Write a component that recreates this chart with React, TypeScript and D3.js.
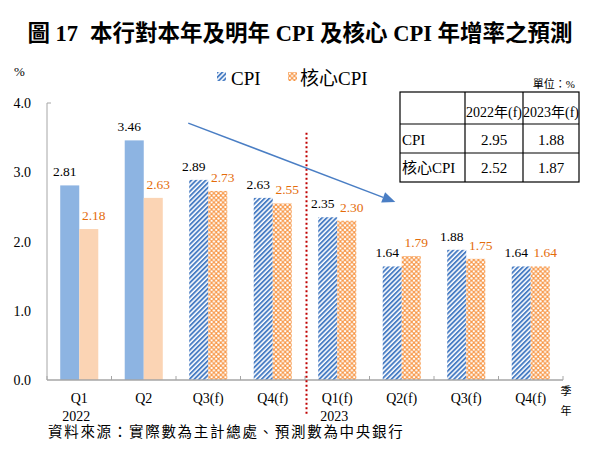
import React from "react";
import * as d3 from "d3";

const categories = ["Q1", "Q2", "Q3(f)", "Q4(f)", "Q1(f)", "Q2(f)", "Q3(f)", "Q4(f)"];
const yearLabels = ["2022", "", "", "", "2023", "", "", ""];
const isForecast = [false, false, true, true, true, true, true, true];
const cpiValues = [2.81, 3.46, 2.89, 2.63, 2.35, 1.64, 1.88, 1.64];
const coreValues = [2.18, 2.63, 2.73, 2.55, 2.3, 1.79, 1.75, 1.64];
const yTicks = [0, 1, 2, 3, 4];
const seriesNames = ["CPI", "核心CPI"];

const tableHeader = ["", "2022年(f)", "2023年(f)"];
const tableRowLabels = ["CPI", "核心CPI"];
const table2022 = [2.95, 2.52];
const table2023 = [1.88, 1.87];

// annotations in data coordinates (category units, value)
const arrowFrom = [2.19, 3.71];
const arrowTo = [5.4, 2.57];
const dividerAt = 4; // boundary between 2022 and 2023
const dividerRange = [3.57, -0.5];

const LATIN = "Liberation Serif";
const SERIF = "Liberation Serif, Noto Sans CJK TC";
const CPI_SOLID = "#8DB4E2";
const CORE_SOLID = "#FBD4B4";
const CPI_DARK = "#4A7EC4";
const CORE_DARK = "#F79646";
const CORE_TEXT = "#E46C0A";
const AXIS = "#A6A6A6";

export default function App() {
  const width = 600;
  const height = 453;
  const left = 47;
  const right = 563;
  const top = 103;
  const bottom = 380;

  const y = d3.scaleLinear().domain([0, 4]).range([bottom, top]);
  const x = d3
    .scaleBand<number>()
    .domain(categories.map((_, i) => i))
    .range([left, right])
    .paddingInner(0)
    .paddingOuter(0);
  const step = x.step();
  const xc = d3.scaleLinear().domain([0, categories.length]).range([left, right]);
  const barW = step * 0.295;

  const fillFor = (s: number, i: number) =>
    s === 0
      ? isForecast[i]
        ? "url(#stripe)"
        : CPI_SOLID
      : isForecast[i]
      ? "url(#lattice)"
      : CORE_SOLID;

  const ax1 = xc(arrowFrom[0]);
  const ay1 = y(arrowFrom[1]);
  const ax2 = xc(arrowTo[0]);
  const ay2 = y(arrowTo[1]);
  const ang = Math.atan2(ay2 - ay1, ax2 - ax1);
  const headL = 13;
  const headW = 5.5;
  const bx = ax2 - headL * Math.cos(ang);
  const by = ay2 - headL * Math.sin(ang);
  const head = [
    [ax2, ay2],
    [bx + headW * Math.sin(ang), by - headW * Math.cos(ang)],
    [bx - headW * Math.sin(ang), by + headW * Math.cos(ang)],
  ]
    .map((p) => p.join(","))
    .join(" ");

  // table geometry
  const tLeft = 400;
  const tCols = [400, 465, 523, 579];
  const tRows = [92, 124, 153, 182];

  return (
    <svg width={width} height={height} style={{ display: "block", position: "absolute", left: 0, top: 0, background: "#fff" }}>
      <defs>
        <pattern id="stripe" patternUnits="userSpaceOnUse" width={3.4} height={3.4} patternTransform="rotate(45)">
          <rect width={3.4} height={3.4} fill="#fff" />
          <rect width={1.9} height={3.4} fill={CPI_DARK} />
        </pattern>
        <pattern id="lattice" patternUnits="userSpaceOnUse" width={4.6} height={4.6}>
          <rect width={4.6} height={4.6} fill={CORE_DARK} />
          <circle cx={2.3} cy={2.3} r={1.25} fill="#fff" />
          <circle cx={0} cy={0} r={1.25} fill="#fff" />
          <circle cx={4.6} cy={0} r={1.25} fill="#fff" />
          <circle cx={0} cy={4.6} r={1.25} fill="#fff" />
          <circle cx={4.6} cy={4.6} r={1.25} fill="#fff" />
        </pattern>
      </defs>

      {/* title */}
      <text x={300} y={41} textAnchor="middle" fontFamily={SERIF} fontWeight="bold" fontSize={22.5} fill="#000">
        <tspan>圖 17</tspan>
        <tspan dx={12}>本行對本年及明年 CPI 及核心 CPI 年增率之預測</tspan>
      </text>

      {/* % unit */}
      <text x={14} y={76} fontFamily={LATIN} fontSize={13} fill="#000">%</text>

      {/* legend */}
      <rect x={217} y={72} width={9} height={9} fill="url(#stripe)" />
      <text x={231} y={85} fontFamily={LATIN} fontSize={19} fill="#000">{seriesNames[0]}</text>
      <rect x={288} y={72} width={9} height={9} fill="url(#lattice)" />
      <text x={300} y={85} fontFamily={SERIF} fontSize={19} fill="#000">{seriesNames[1]}</text>

      {/* y axis */}
      <line x1={left} x2={left} y1={top} y2={bottom} stroke={AXIS} strokeWidth={1} />
      <line x1={left} x2={left + 4} y1={y(4)} y2={y(4)} stroke={AXIS} strokeWidth={1} />
      {yTicks.map((t) => (
        <text key={t} x={31} y={y(t) + 5} textAnchor="end" fontFamily={LATIN} fontSize={14} fill="#000">
          {t.toFixed(1)}
        </text>
      ))}

      {/* bars */}
      {categories.map((_, i) => {
        const x0 = (x(i) as number) + step / 2 - barW;
        return (
          <g key={i}>
            <rect x={x0} y={y(cpiValues[i])} width={barW} height={bottom - y(cpiValues[i])} fill={fillFor(0, i)} />
            <rect x={x0 + barW} y={y(coreValues[i])} width={barW} height={bottom - y(coreValues[i])} fill={fillFor(1, i)} />
            <text x={x0 + barW / 2 - 5} y={y(cpiValues[i]) - 9} textAnchor="middle" fontFamily={LATIN} fontSize={13.5} fill="#000">
              {cpiValues[i].toFixed(2)}
            </text>
            <text x={x0 + barW * 1.5 + 5} y={y(coreValues[i]) - 9} textAnchor="middle" fontFamily={LATIN} fontSize={13.5} fill={CORE_TEXT}>
              {coreValues[i].toFixed(2)}
            </text>
          </g>
        );
      })}

      {/* x axis */}
      <line x1={left} x2={right} y1={bottom} y2={bottom} stroke={AXIS} strokeWidth={1.5} />
      {d3.range(categories.length + 1).map((k) => (
        <line key={k} x1={xc(k)} x2={xc(k)} y1={bottom} y2={bottom - 4} stroke={AXIS} strokeWidth={1} />
      ))}
      {categories.map((c, i) => (
        <g key={i}>
          <text x={(x(i) as number) + step / 2} y={403} textAnchor="middle" fontFamily={LATIN} fontSize={14} fill="#000">
            {c}
          </text>
          {yearLabels[i] && (
            <text x={(x(i) as number) + step / 2 - 3} y={421} textAnchor="middle" fontFamily={LATIN} fontSize={14} fill="#000">
              {yearLabels[i]}
            </text>
          )}
        </g>
      ))}
      <text x={566} y={395} textAnchor="middle" fontFamily={SERIF} fontSize={11} fill="#000">季</text>
      <text x={566} y={415} textAnchor="middle" fontFamily={SERIF} fontSize={11} fill="#000">年</text>

      {/* divider */}
      <line
        x1={xc(dividerAt) + 1.5}
        x2={xc(dividerAt) + 1.5}
        y1={y(dividerRange[0])}
        y2={y(dividerRange[1])}
        stroke="#C00000"
        strokeWidth={2}
        strokeDasharray="2 2.5"
      />

      {/* arrow */}
      <line x1={ax1} y1={ay1} x2={bx} y2={by} stroke={CPI_DARK} strokeWidth={1.5} />
      <polygon points={head} fill={CPI_DARK} />

      {/* table */}
      <text x={575} y={88} textAnchor="end" fontFamily={SERIF} fontSize={11} fill="#000">單位：%</text>
      <rect x={tLeft} y={tRows[0]} width={tCols[3] - tCols[0]} height={tRows[3] - tRows[0]} fill="#fff" stroke="#000" strokeWidth={1.2} />
      {tRows.slice(1, 3).map((r) => (
        <line key={r} x1={tCols[0]} x2={tCols[3]} y1={r} y2={r} stroke="#000" strokeWidth={1.2} />
      ))}
      {tCols.slice(1, 3).map((c) => (
        <line key={c} x1={c} x2={c} y1={tRows[0]} y2={tRows[3]} stroke="#000" strokeWidth={1.2} />
      ))}
      {tableHeader.map((h, j) =>
        h ? (
          <text key={j} x={(tCols[j] + tCols[j + 1]) / 2} y={117} textAnchor="middle" fontFamily={SERIF} fontSize={14} fill="#000">
            {h}
          </text>
        ) : null
      )}
      {tableRowLabels.map((lab, r) => {
        const yy = [145, 173][r];
        return (
          <g key={lab}>
            <text x={tLeft + 2} y={yy} fontFamily={SERIF} fontSize={15} fill="#000">{lab}</text>
            <text x={(tCols[1] + tCols[2]) / 2} y={yy} textAnchor="middle" fontFamily={LATIN} fontSize={15} fill="#000">
              {table2022[r].toFixed(2)}
            </text>
            <text x={(tCols[2] + tCols[3]) / 2} y={yy} textAnchor="middle" fontFamily={LATIN} fontSize={15} fill="#000">
              {table2023[r].toFixed(2)}
            </text>
          </g>
        );
      })}

      {/* source */}
      <text x={48} y={437} fontFamily={SERIF} fontSize={14.5} letterSpacing={1.7} fill="#000">
        資料來源：實際數為主計總處、預測數為中央銀行
      </text>
    </svg>
  );
}
